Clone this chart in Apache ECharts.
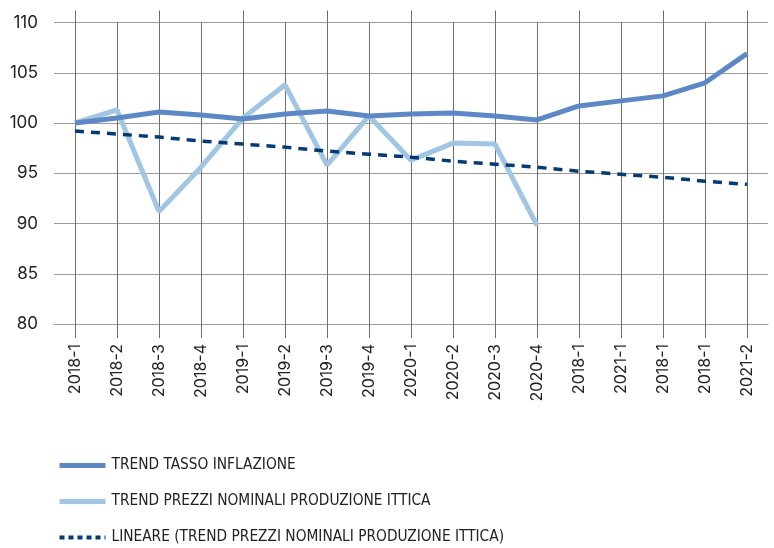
<!DOCTYPE html>
<html>
<head>
<meta charset="utf-8">
<script src="https://cdn.jsdelivr.net/npm/echarts@6/dist/echarts.min.js"></script>
<style>
  html, body { margin: 0; padding: 0; background: #fff; }
  #chart { width: 774px; height: 548px; }
</style>
</head>
<body>
<div id="chart"></div>
<script>
// trimestri (etichette come nel grafico originale)
var categories = ["2018-1", "2018-2", "2018-3", "2018-4", "2019-1", "2019-2", "2019-3", "2019-4",
  "2020-1", "2020-2", "2020-3", "2020-4", "2018-1", "2021-1", "2018-1", "2018-1", "2021-2"];

var inflazione = [100.0, 100.5, 101.1, 100.8, 100.4, 100.9, 101.2, 100.7,
  100.9, 101.0, 100.7, 100.3, 101.7, 102.2, 102.7, 104.0, 106.9];

var prezziIttici = [100.0, 101.3, 91.2, 95.6, 100.5, 103.8, 95.8, 100.7,
  96.3, 98.0, 97.9, 89.8];

var lineare = [99.2, 98.9, 98.6, 98.2, 97.9, 97.6, 97.2, 96.9,
  96.6, 96.2, 95.9, 95.6, 95.2, 94.9, 94.6, 94.2, 93.9];

var yTicks = { min: 80, max: 110, step: 5 };

var gridColor = "#9a9a9a";
var vColor = "#6e6e6e";
var textColor = "#222";
var font = "Inter, Roboto, 'Noto Sans', sans-serif";

var colInfl = "#5d88c6";
var colPrezzi = "#a0c6e4";
var colLin = "#053b74";

var chart = echarts.init(document.getElementById("chart"));
chart.setOption({
  animation: false,
  grid: { left: 54, right: 6, top: 22.5, bottom: 224, containLabel: false },
  legend: {
    orient: "vertical",
    left: 57,
    top: 458,
    padding: 0,
    itemWidth: 46,
    itemHeight: 14,
    itemGap: 21,
    itemStyle: { opacity: 0 },
    textStyle: {
      fontFamily: "'Liberation Sans Narrow', 'DejaVu Sans Condensed', sans-serif",
      fontSize: 15.3,
      color: textColor,
      padding: [0, 0, 0, 1]
    },
    data: [
      { name: "TREND TASSO INFLAZIONE", lineStyle: { width: 5, color: colInfl } },
      { name: "TREND PREZZI NOMINALI PRODUZIONE ITTICA", lineStyle: { width: 5, color: colPrezzi } },
      { name: "LINEARE (TREND PREZZI NOMINALI PRODUZIONE ITTICA)", lineStyle: { width: 4, color: colLin, type: [5, 4] } }
    ]
  },
  xAxis: [
    {
      type: "category",
      data: categories,
      boundaryGap: true,
      axisLine: { show: true, lineStyle: { color: gridColor, width: 1 } },
      axisTick: { show: true, alignWithLabel: true, length: 14, lineStyle: { color: vColor } },
      axisLabel: { rotate: 90, margin: 20, fontSize: 16, color: textColor, fontFamily: font, interval: 0 },
      splitLine: { show: true, alignWithLabel: true, lineStyle: { color: vColor, width: 1 } }
    },
    {
      type: "category",
      data: categories,
      position: "top",
      boundaryGap: true,
      axisLine: { show: false },
      axisTick: { show: true, alignWithLabel: true, length: 12, lineStyle: { color: vColor } },
      axisLabel: { show: false },
      splitLine: { show: false }
    }
  ],
  yAxis: {
    type: "value",
    min: yTicks.min,
    max: yTicks.max,
    interval: yTicks.step,
    axisLine: { show: false },
    axisTick: { show: false },
    axisLabel: { margin: 16, fontSize: 17, color: textColor, fontFamily: font },
    splitLine: { show: true, lineStyle: { color: gridColor, width: 1 } }
  },
  series: [
    {
      name: "TREND TASSO INFLAZIONE",
      type: "line",
      data: inflazione,
      symbol: "none",
      lineStyle: { color: colInfl, width: 5 },
      itemStyle: { color: colInfl },
      z: 3
    },
    {
      name: "TREND PREZZI NOMINALI PRODUZIONE ITTICA",
      type: "line",
      data: prezziIttici,
      symbol: "none",
      lineStyle: { color: colPrezzi, width: 5 },
      itemStyle: { color: colPrezzi },
      z: 2
    },
    {
      name: "LINEARE (TREND PREZZI NOMINALI PRODUZIONE ITTICA)",
      type: "line",
      data: lineare,
      symbol: "none",
      lineStyle: { color: colLin, width: 3.5, type: [9, 7] },
      itemStyle: { color: colLin },
      z: 4
    }
  ]
});
</script>
</body>
</html>
